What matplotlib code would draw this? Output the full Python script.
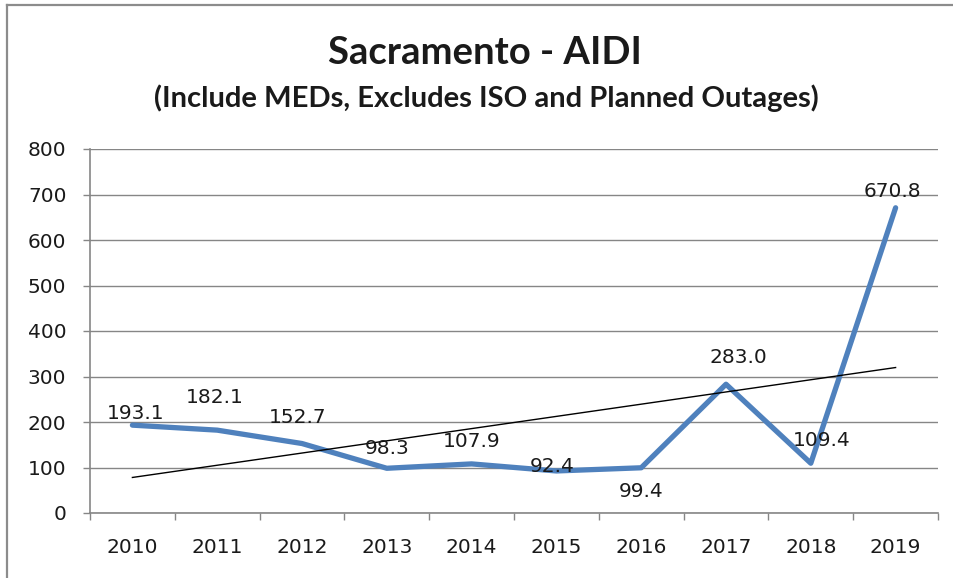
import numpy as np
import matplotlib
matplotlib.use("Agg")
import matplotlib.pyplot as plt
from matplotlib.lines import Line2D

years = ["2010", "2011", "2012", "2013", "2014", "2015", "2016", "2017", "2018", "2019"]
aidi = [193.1, 182.1, 152.7, 98.3, 107.9, 92.4, 99.4, 283.0, 109.4, 670.8]
yticks = [0, 100, 200, 300, 400, 500, 600, 700, 800]

# label offsets (pixels) so the numbers sit roughly where Excel put them
label_off = [(3, 12), (-2, 33), (-4, 26), (0, 20), (0, 22),
             (-4, 4), (0, -24), (12, 27), (11, 23), (-3, 16)]

blue = "#4F81BD"
grey = "#868686"
txt = "#1a1a1a"

W, H = 954, 578
fig = plt.figure(figsize=(W / 100, H / 100), dpi=100)
ax = fig.add_axes([90 / W, 1 - 513 / H, (938 - 90) / W, (513 - 149) / H])

x = np.arange(len(years))
ax.plot(x, aidi, color=blue, lw=3.8, solid_joinstyle="round", solid_capstyle="round", zorder=3)

# linear trendline
k, b = np.polyfit(x, aidi, 1)
ax.plot([x[0], x[-1]], [k * x[0] + b, k * x[-1] + b], color="black", lw=1.0, zorder=4)

for xi, v, (dx, dy) in zip(x, aidi, label_off):
    ax.annotate(f"{v:.1f}", (xi, v), xytext=(dx, dy), textcoords="offset pixels",
                ha="center", va="center", fontsize=14.5, color=txt, zorder=5)

ax.set_xlim(-0.5, len(years) - 0.5)
ax.set_ylim(0, 800)
ax.set_yticks(yticks)
ax.set_xticks(np.arange(-0.5, len(years)))
ax.set_xticklabels([])
ax.set_xticks(x, minor=True)
ax.set_xticklabels(years, minor=True)
ax.tick_params(axis="x", which="major", length=5, width=1, color=grey, direction="out")
ax.tick_params(axis="x", which="minor", length=0, pad=18, labelsize=14.5, labelcolor=txt)
ax.tick_params(axis="y", length=5, width=1, color=grey, pad=12, labelsize=14.5, labelcolor=txt)

ax.grid(axis="y", color=grey, lw=1)
ax.set_axisbelow(True)
for s in ["top", "right"]:
    ax.spines[s].set_visible(False)
for s in ["left", "bottom"]:
    ax.spines[s].set_color(grey)
    ax.spines[s].set_linewidth(1.2)

fig.text(485 / W, 1 - 64 / H, "Sacramento - AIDI", ha="center", va="baseline",
         fontsize=27.5, fontweight="bold", family=["Lato", "DejaVu Sans"], color=txt)
fig.text(486 / W, 1 - 107 / H, "(Include MEDs, Excludes ISO and Planned Outages)", ha="center",
         va="baseline", fontsize=21, fontweight="bold", family=["Lato", "DejaVu Sans"], color=txt)

# chart frame (only top and left edges are visible in the crop)
fig.add_artist(Line2D([7 / W, 1], [1 - 5 / H, 1 - 5 / H], color="#8c8c8c", lw=1.6))
fig.add_artist(Line2D([7 / W, 7 / W], [0, 1 - 5 / H], color="#8c8c8c", lw=1.6))

fig.savefig("out.png", dpi=100)
